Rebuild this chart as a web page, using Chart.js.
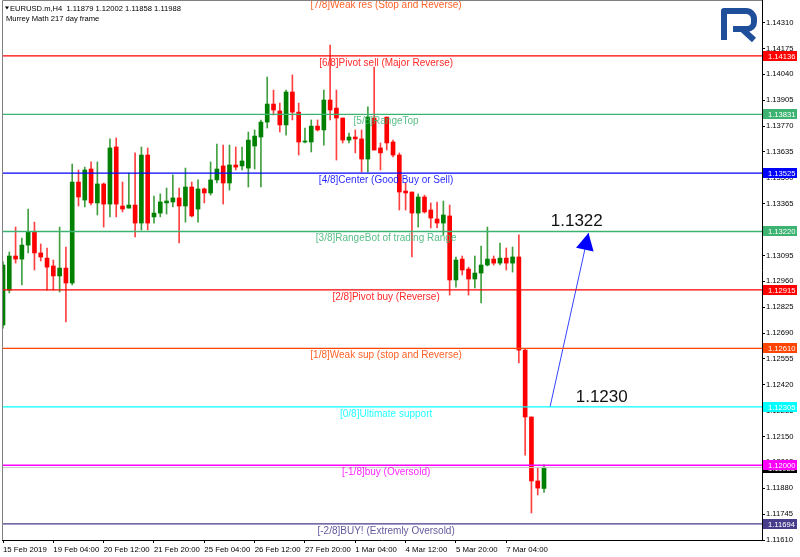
<!DOCTYPE html>
<html><head><meta charset="utf-8">
<script src="https://cdn.jsdelivr.net/npm/chart.js@4.4.0/dist/chart.umd.min.js"></script>
<style>html,body{margin:0;padding:0;background:#fff;}canvas{display:block;}</style>
</head><body>
<canvas id="c" width="800" height="557"></canvas>
<script>
// ---- categories (H4 bars) ----
const days = ['18 Feb','19 Feb','20 Feb','21 Feb','22 Feb','25 Feb','26 Feb','27 Feb','28 Feb','1 Mar','4 Mar','5 Mar','6 Mar','7 Mar'];
const hours = ['00:00','04:00','08:00','12:00','16:00','20:00'];
const times = ['15 Feb 20:00'];
days.forEach(d => hours.forEach(h => times.push(d + ' ' + h)));
times.push('8 Mar 00:00', '8 Mar 04:00');

// ---- OHLC series ----
const opens = [1.12732,1.12914,1.13092,1.13076,1.13149,1.13217,1.13108,1.13081,1.13040,1.12988,
1.13029,1.12951,1.13478,1.13384,1.13546,1.13369,1.13468,1.13363,1.13661,1.13353,
1.13342,1.13358,1.13264,1.13619,1.13296,1.13316,1.13369,1.13374,1.13395,1.13353,
1.13452,1.13337,1.13442,1.13421,1.13489,1.13562,1.13473,1.13567,1.13562,1.13551,
1.13666,1.13713,1.13791,1.13885,1.13849,1.13776,1.13948,1.13843,1.13687,1.13687,
1.13770,1.13750,1.13906,1.13864,1.13812,1.13697,1.13713,1.13703,1.13598,1.13812,
1.13656,1.13817,1.13687,1.13619,1.13431,1.13426,1.13316,1.13400,1.13332,1.13285,
1.13264,1.13301,1.12967,1.13076,1.13024,1.12972,1.13003,1.13045,1.13076,1.13055,
1.13081,1.13055,1.13087,1.12601,1.12252,1.11918,1.11879];
const closes = [1.13045,1.13092,1.13076,1.13149,1.13217,1.13108,1.13087,1.13034,1.12988,1.13029,
1.12951,1.13478,1.13400,1.13541,1.13369,1.13468,1.13363,1.13656,1.13363,1.13337,
1.13358,1.13264,1.13619,1.13264,1.13316,1.13374,1.13379,1.13395,1.13353,1.13452,
1.13301,1.13442,1.13421,1.13489,1.13546,1.13473,1.13567,1.13556,1.13588,1.13697,
1.13718,1.13791,1.13885,1.13854,1.13776,1.13948,1.13843,1.13687,1.13692,1.13770,
1.13750,1.13906,1.13854,1.13812,1.13697,1.13713,1.13703,1.13598,1.13817,1.13645,
1.13630,1.13682,1.13619,1.13426,1.13421,1.13316,1.13400,1.13322,1.13290,1.13264,
1.13306,1.12967,1.13071,1.13019,1.12972,1.13003,1.13045,1.13076,1.13055,1.13081,
1.13055,1.13087,1.12601,1.12252,1.11918,1.11881,1.11988];
const highs = [1.13061,1.13113,1.13243,1.13186,1.13337,1.13269,1.13155,1.13134,1.13071,1.13243,
1.13139,1.13572,1.13541,1.13556,1.13583,1.13583,1.13473,1.13703,1.13708,1.13478,
1.13525,1.13630,1.13661,1.13656,1.13405,1.13416,1.13447,1.13515,1.13447,1.13551,
1.13478,1.13489,1.13447,1.13583,1.13676,1.13671,1.13671,1.13661,1.13661,1.13739,
1.13750,1.13802,1.14026,1.13958,1.13890,1.13958,1.14037,1.13890,1.13760,1.13802,
1.13802,1.13958,1.14193,1.13958,1.13812,1.13734,1.13750,1.13750,1.13870,1.14078,
1.13682,1.13817,1.13697,1.13630,1.13473,1.13426,1.13416,1.13410,1.13369,1.13374,
1.13379,1.13358,1.13087,1.13092,1.13034,1.13092,1.13144,1.13243,1.13092,1.13160,
1.13134,1.13139,1.13202,1.12607,1.12252,1.11986,1.12002];
const lows = [1.12716,1.12899,1.13055,1.12941,1.13108,1.13019,1.13066,1.12914,1.12914,1.12904,
1.12748,1.12941,1.13353,1.13348,1.13358,1.13306,1.13243,1.13296,1.13296,1.13322,
1.13342,1.13191,1.13228,1.13228,1.13264,1.13296,1.13311,1.13348,1.13160,1.13269,
1.13296,1.13269,1.13369,1.13410,1.13473,1.13363,1.13436,1.13541,1.13541,1.13452,
1.13546,1.13452,1.13760,1.13828,1.13739,1.13723,1.13802,1.13619,1.13682,1.13635,
1.13744,1.13671,1.13802,1.13593,1.13682,1.13682,1.13630,1.13530,1.13530,1.13645,
1.13541,1.13645,1.13609,1.13332,1.13332,1.13087,1.13243,1.13316,1.13238,1.13238,
1.13202,1.12888,1.12930,1.12993,1.12888,1.12925,1.12847,1.13040,1.13045,1.13045,
1.13019,1.13008,1.12534,1.12053,1.11751,1.11845,1.11858];

// ---- Murrey Math levels ----
const murreyLevels = [1.14441,1.14136,1.13831,1.13525,1.13220,1.12915,1.12610,1.12305,1.12000,1.11694];
const murreyLabels = ['[7/8]Weak res (Stop and Reverse)','[6/8]Pivot sell (Major Reverse)','[5/8]RangeTop',
 '[4/8]Center (Good Buy or Sell)','[3/8]RangeBot of trading Range','[2/8]Pivot buy (Reverse)',
 '[1/8]Weak sup (stop and Reverse)','[0/8]Ultimate support','[-1/8]buy (Oversold)','[-2/8]BUY! (Extremly Oversold)'];
const murreyColors = ['#FF4500','#FF0000','#3CB371','#0000FF','#3CB371','#FF0000','#FF4500','#00FFFF','#FF00FF','#483D8B'];

// ---- axes ----
const yTicks = [1.11610,1.11745,1.11880,1.12015,1.12150,1.12285,1.12420,1.12555,1.12690,1.12825,1.12960,
 1.13095,1.13230,1.13365,1.13500,1.13635,1.13770,1.13905,1.14040,1.14175,1.14310];
const xTickIndex = [0,8,16,24,32,40,48,56,64,72,80];
const xTickLabels = ['15 Feb 2019','19 Feb 04:00','20 Feb 12:00','21 Feb 20:00','25 Feb 04:00','26 Feb 12:00',
 '27 Feb 20:00','1 Mar 04:00','4 Mar 12:00','5 Mar 20:00','7 Mar 04:00'];

// ---- header / annotations ----
const headerLine1 = 'EURUSD.m,H4  1.11879 1.12002 1.11858 1.11988';
const headerLine2 = 'Murrey Math 217 day frame';
const bidPrice = 1.11988;
const arrowFrom = {x: 86.96, y: 1.12305};
const arrowTo = {x: 93.07, y: 1.13212};
const notes = [{text:'1.1322', x: 87.07, y: 1.13249}, {text:'1.1230', x: 91.04, y: 1.12332}];

const X_MIN = -0.159, X_MAX = 120.65, Y_MIN = 1.11610, Y_MAX = 1.14428;
const BULL = '#008000', BEAR = '#FF0000';
const FONT = '"Liberation Sans", Arial, sans-serif';

const candleColors = opens.map((o, i) => closes[i] >= o ? BULL : BEAR);
const wickColors = opens.map((o, i) => closes[i] >= o ? 'rgba(0,128,0,0.75)' : 'rgba(255,0,0,0.75)');

const lineDatasets = murreyLevels.map((lv, i) => ({
  type: 'line', label: murreyLabels[i],
  data: [{x: X_MIN - 1, y: lv}, {x: X_MAX + 1, y: lv}],
  borderColor: murreyColors[i], borderWidth: 1.3, pointRadius: 0, order: 0
}));

const datasets = [
  ...lineDatasets,
  {type:'line', label:'bid', data:[{x:X_MIN-1,y:bidPrice},{x:X_MAX+1,y:bidPrice}], borderColor:'#C8C8C8', borderWidth:1, pointRadius:0, order:1},
  {type:'line', label:'arrow', data:[arrowFrom, arrowTo], borderColor:'#3344FF', borderWidth:1, pointRadius:0, order:0},
  {type:'bar', label:'wicks', data: times.map((t, i) => ({x: i, y: [lows[i], highs[i]]})),
   backgroundColor: wickColors, barThickness: 1, grouped: false, order: 3},
  {type:'bar', label:'bodies', data: times.map((t, i) => ({x: i, y: [opens[i], closes[i]]})),
   backgroundColor: candleColors, barThickness: 4, grouped: false, minBarLength: 1, order: 2}
];

const boxLevels = murreyLevels.map((lv, i) => ({v: lv, c: murreyColors[i]}));

const overlay = {
  id: 'overlay',
  afterDatasetsDraw(chart) {
    const {ctx, scales: {x, y}} = chart;
    ctx.save();
    // Murrey labels
    ctx.font = '10px ' + FONT;
    ctx.textAlign = 'center'; ctx.textBaseline = 'alphabetic';
    const lx = x.getPixelForValue(60.9);
    murreyLevels.forEach((lv, i) => {
      ctx.fillStyle = murreyColors[i];
      ctx.globalAlpha = 0.85;
      ctx.fillText(murreyLabels[i], lx, y.getPixelForValue(lv) + 10);
    });
    ctx.globalAlpha = 1;
    // arrow head
    const sx = x.getPixelForValue(arrowFrom.x), sy = y.getPixelForValue(arrowFrom.y);
    const tx = x.getPixelForValue(arrowTo.x), ty = y.getPixelForValue(arrowTo.y);
    const len = Math.hypot(tx - sx, ty - sy), ux = (tx - sx) / len, uy = (ty - sy) / len;
    const bx = tx - ux * 17, by = ty - uy * 17, nx = -uy, ny = ux;
    ctx.fillStyle = '#0000FF';
    ctx.beginPath(); ctx.moveTo(tx, ty); ctx.lineTo(bx + nx * 9, by + ny * 9); ctx.lineTo(bx - nx * 9, by - ny * 9); ctx.closePath(); ctx.fill();
    // price notes
    ctx.font = '17px ' + FONT; ctx.fillStyle = '#111'; ctx.textAlign = 'left'; ctx.textBaseline = 'alphabetic';
    notes.forEach(n => ctx.fillText(n.text, x.getPixelForValue(n.x), y.getPixelForValue(n.y)));
    // header
    ctx.fillStyle = '#000';
    ctx.beginPath(); ctx.moveTo(5, 6.5); ctx.lineTo(9, 6.5); ctx.lineTo(7, 9.5); ctx.closePath(); ctx.fill();
    ctx.font = '7.6px ' + FONT;
    ctx.fillText(headerLine1, 10, 11);
    ctx.fillText(headerLine2, 6, 21);
    ctx.restore();
  },
  afterDraw(chart) {
    const {ctx, chartArea: a, scales: {y}} = chart;
    ctx.save();
    // frame
    ctx.strokeStyle = '#808080'; ctx.lineWidth = 1;
    ctx.beginPath(); ctx.moveTo(a.left + 0.5, a.bottom); ctx.lineTo(a.left + 0.5, a.top + 0.5); ctx.lineTo(a.right, a.top + 0.5); ctx.stroke();
    // price boxes
    ctx.font = '7.6px ' + FONT; ctx.textAlign = 'left'; ctx.textBaseline = 'middle';
    const drawBox = (v, c) => {
      const py = y.getPixelForValue(v);
      if (py < a.top || py > a.bottom) return;
      ctx.fillStyle = c; ctx.fillRect(a.right + 1, Math.round(py) - 5, 34, 10);
      ctx.fillStyle = '#fff'; ctx.fillText(v.toFixed(5), a.right + 6, Math.round(py) + 0.5);
    };
    drawBox(bidPrice, '#000');
    boxLevels.forEach(b => drawBox(b.v, b.c));
    // logo
    ctx.strokeStyle = '#1F4E9A'; ctx.lineWidth = 6; ctx.lineJoin = 'round';
    ctx.beginPath();
    ctx.moveTo(724, 40); ctx.lineTo(724, 11); ctx.lineTo(745, 11);
    ctx.arcTo(754, 11, 754, 20, 8); ctx.lineTo(754, 22); ctx.arcTo(754, 29, 746, 29, 7); ctx.lineTo(733, 29);
    ctx.moveTo(742, 29); ctx.lineTo(754, 40);
    ctx.stroke();
    ctx.restore();
  }
};

new Chart(document.getElementById('c'), {
  type: 'bar',
  data: {datasets},
  options: {
    responsive: false, animation: false, devicePixelRatio: 1,
    layout: {padding: {left: 2, top: 0, right: 0, bottom: 0}},
    plugins: {legend: {display: false}, tooltip: {enabled: false}},
    scales: {
      x: {
        type: 'linear', min: X_MIN, max: X_MAX, offset: false,
        grid: {drawOnChartArea: false, drawTicks: true, tickLength: 3, color: '#000', offset: false},
        border: {display: true, color: '#000'},
        afterBuildTicks: s => { s.ticks = xTickIndex.map(v => ({value: v})); },
        afterFit: s => { s.height = 17; s.paddingLeft = 0; s.paddingRight = 0; },
        ticks: {autoSkip: false, maxRotation: 0, align: 'start', padding: 2, color: '#000',
          font: {family: FONT, size: 7.8},
          callback: v => { const k = xTickIndex.indexOf(v); return k >= 0 ? xTickLabels[k] : ''; }}
      },
      y: {
        type: 'linear', position: 'right', min: Y_MIN, max: Y_MAX, beginAtZero: false,
        grid: {drawOnChartArea: false, drawTicks: true, tickLength: 3, color: '#000'},
        border: {display: true, color: '#000'},
        afterBuildTicks: s => { s.ticks = yTicks.map(v => ({value: v})); },
        afterFit: s => { s.width = 38; s.paddingTop = 0; s.paddingBottom = 0; },
        ticks: {autoSkip: false, padding: 1, color: '#000', font: {family: FONT, size: 7.6},
          callback: v => v.toFixed(5)}
      }
    }
  },
  plugins: [overlay]
});
</script>
</body></html>
